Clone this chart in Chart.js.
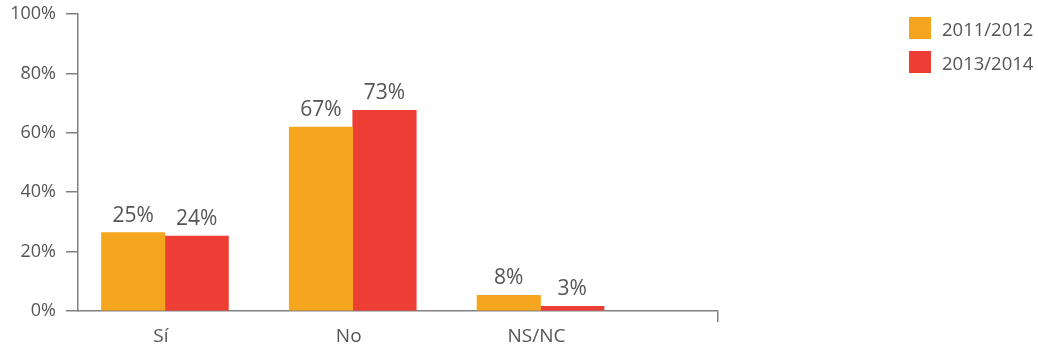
<!DOCTYPE html>
<html>
<head>
<meta charset="utf-8">
<script src="https://cdn.jsdelivr.net/npm/chart.js@4.4.1/dist/chart.umd.min.js"></script>
<style>
  html, body { margin: 0; padding: 0; background: #ffffff; }
  #wrap { position: relative; width: 1038px; height: 351px; }
  #legend { position: absolute; left: 909px; top: 17px; font-family: "Open Sans", sans-serif; font-size: 18.5px; color: #555555; }
  .item { display: flex; align-items: center; height: 22px; margin-bottom: 12px; white-space: nowrap; }
  .box { width: 22px; height: 22px; margin-right: 11px; flex: none; }
</style>
</head>
<body>
<div id="wrap">
  <canvas id="c" width="1038" height="351"></canvas>
  <div id="legend"></div>
</div>
<script>
// ---- data ----
const categories = ['Sí', 'No', 'NS/NC'];
const seriesNames = ['2011/2012', '2013/2014'];
const values2011 = [26.4, 61.9, 5.3];
const values2013 = [25.2, 67.6, 1.6];
const labels2011 = ['25%', '67%', '8%'];
const labels2013 = ['24%', '73%', '3%'];
const yTickValues = [0, 20, 40, 60, 80, 100];

const colors = ['#F6A51F', '#EE3D34'];
const textColor = '#555555';
const axisColor = '#808080';
const catIndex = categories.map((_, i) => i);

const valueLabels = [labels2011, labels2013];

const valueLabelPlugin = {
  id: 'valueLabels',
  afterDatasetsDraw(chart) {
    const ctx = chart.ctx;
    ctx.save();
    ctx.font = '21px "Open Sans"';
    ctx.fillStyle = textColor;
    ctx.textAlign = 'center';
    ctx.textBaseline = 'alphabetic';
    chart.data.datasets.forEach((ds, di) => {
      const meta = chart.getDatasetMeta(di);
      meta.data.forEach((bar, i) => {
        ctx.fillText(valueLabels[di][i], bar.x, bar.y - 11);
      });
    });
    ctx.restore();
  }
};

const chart = new Chart(document.getElementById('c'), {
  type: 'bar',
  data: {
    datasets: [
      { label: seriesNames[0], data: catIndex.map(i => ({ x: i, y: values2011[i] })), backgroundColor: colors[0], borderWidth: 0 },
      { label: seriesNames[1], data: catIndex.map(i => ({ x: i, y: values2013[i] })), backgroundColor: colors[1], borderWidth: 0 }
    ]
  },
  options: {
    responsive: false,
    animation: false,
    barThickness: 63.5,
    layout: { autoPadding: false, padding: { top: 14, right: 320, bottom: 0, left: 0 } },
    plugins: { legend: { display: false }, tooltip: { enabled: false } },
    scales: {
      x: {
        type: 'linear',
        min: -0.463,
        max: 2.945,
        offset: false,
        afterBuildTicks: s => { s.ticks = catIndex.map(v => ({ value: v })).concat([{ value: s.max }]); },
        ticks: {
          autoSkip: false,
          maxRotation: 0,
          labelOffset: -4,
          padding: 3,
          color: textColor,
          font: { family: 'Open Sans', size: 19 },
          callback: (v, i) => (i < categories.length ? categories[i] : '')
        },
        grid: {
          offset: false,
          drawOnChartArea: false,
          drawTicks: true,
          tickLength: 11,
          lineWidth: 1.5,
          color: c => (c.index === categories.length ? axisColor : 'rgba(0,0,0,0)')
        },
        border: { display: true, color: axisColor, width: 1.5 },
        afterFit: s => { s.height = 40; s.paddingLeft = 0; s.paddingRight = 0; }
      },
      y: {
        min: 0,
        max: 100,
        afterBuildTicks: s => { s.ticks = yTickValues.map(v => ({ value: v })); },
        ticks: {
          padding: 10,
          color: textColor,
          font: { family: 'Open Sans', size: 18 },
          callback: v => v + '%'
        },
        grid: { drawOnChartArea: false, drawTicks: true, tickLength: 12, lineWidth: 1.5, color: axisColor },
        border: { display: true, color: axisColor, width: 1.5 },
        afterFit: s => { s.width = 78; s.paddingTop = 0; s.paddingBottom = 0; }
      }
    }
  },
  plugins: [valueLabelPlugin]
});

// HTML legend built from the chart's datasets
const legendEl = document.getElementById('legend');
chart.data.datasets.forEach(ds => {
  const item = document.createElement('div');
  item.className = 'item';
  const box = document.createElement('span');
  box.className = 'box';
  box.style.background = ds.backgroundColor;
  const txt = document.createElement('span');
  txt.textContent = ds.label;
  item.appendChild(box);
  item.appendChild(txt);
  legendEl.appendChild(item);
});
</script>
</body>
</html>
